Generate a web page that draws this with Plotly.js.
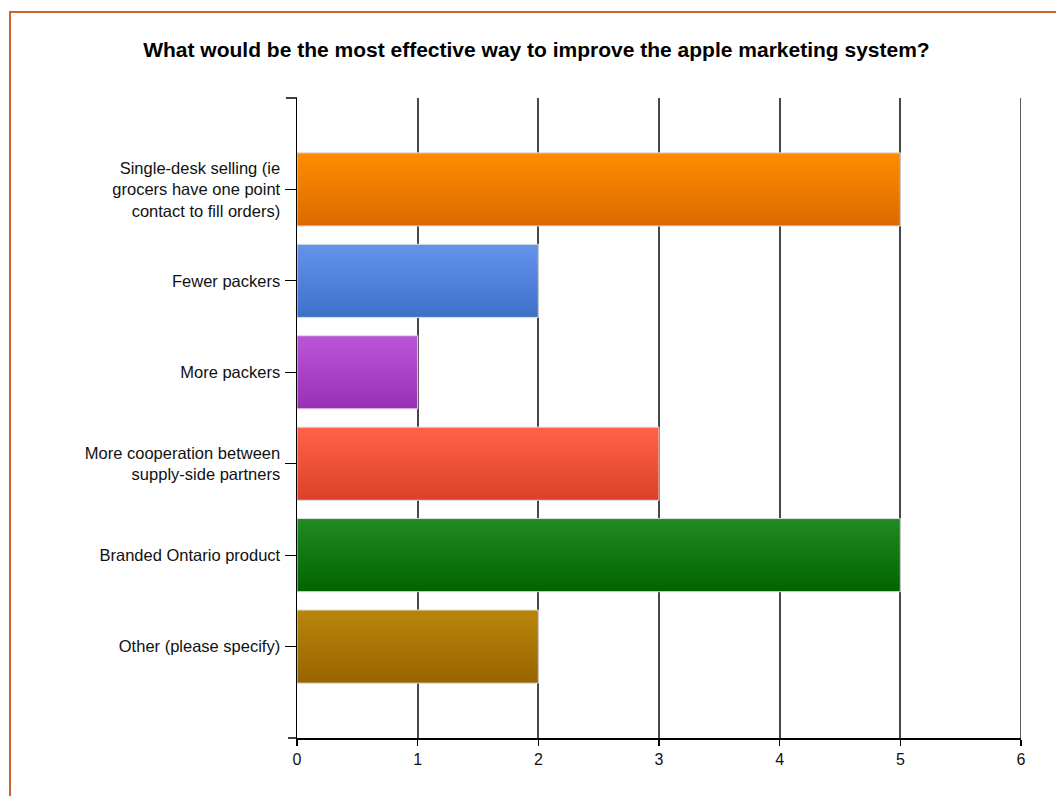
<!DOCTYPE html>
<html>
<head>
<meta charset="utf-8">
<script src="https://cdn.plot.ly/plotly-3.0.1.min.js"></script>
<style>
html,body{margin:0;padding:0;background:#fff;}
#chart{width:1056px;height:796px;}
</style>
</head>
<body>
<div id="chart"></div>
<script>
const categories = [
  "Single-desk selling (ie<br>grocers have one point<br>contact to fill orders)",
  "Fewer packers",
  "More packers",
  "More cooperation between<br>supply-side partners",
  "Branded Ontario product",
  "Other (please specify)"
];
const values = [5, 2, 1, 3, 5, 2];
const topColors = ["#FF8C00", "#6593EC", "#BB55D6", "#FF6347", "#228B22", "#B8860B"];
const bottomColors = ["#DB6A00", "#3F70C9", "#9A30B5", "#DB4126", "#006400", "#996300"];
const midColors = ["#EE7B00", "#5282DB", "#AA43C5", "#ED5237", "#117711", "#A87505"];
const xTicks = [0, 1, 2, 3, 4, 5, 6];
const titleText = "What would be the most effective way to improve the apple marketing system?";

const trace = {
  type: "bar",
  orientation: "h",
  y: categories,
  x: values,
  width: 0.8,
  marker: {color: midColors, line: {color: "#DDDDDD", width: 1}},
  hoverinfo: "x+y"
};

const xMax = xTicks[xTicks.length - 1];

const layout = {
  width: 1056,
  height: 796,
  margin: {l: 297, r: 35, t: 98, b: 58, pad: 0},
  paper_bgcolor: "#ffffff",
  plot_bgcolor: "#ffffff",
  showlegend: false,
  font: {family: "Liberation Sans, Arial, sans-serif", size: 16, color: "#111"},
  title: {
    text: "<b>" + titleText + "</b>",
    font: {family: "Liberation Sans, Arial, sans-serif", size: 21, color: "#000"},
    x: 0.508, xanchor: "center", y: 0.938, yanchor: "middle"
  },
  xaxis: {
    range: [xTicks[0], xMax],
    tickvals: xTicks,
    ticktext: xTicks.map(String),
    showgrid: true,
    gridcolor: "#484848",
    gridwidth: 1.8,
    zeroline: false,
    showline: true,
    linecolor: "#000",
    linewidth: 1.5,
    ticks: "outside",
    ticklen: 6,
    tickwidth: 1.5,
    tickcolor: "#000",
    tickfont: {size: 16, color: "#111"},
    fixedrange: true
  },
  yaxis: {
    type: "category",
    categoryorder: "array",
    categoryarray: categories,
    range: [6, -1],
    showgrid: false,
    zeroline: false,
    showline: true,
    linecolor: "#000",
    linewidth: 1.5,
    ticks: "outside",
    ticklen: 11,
    tickwidth: 1.2,
    tickcolor: "#000",
    ticklabelstandoff: 1,
    tickfont: {size: 16.5, color: "#111"},
    fixedrange: true
  },
  shapes: [
    {type: "rect", xref: "paper", yref: "paper",
     x0: (10 - 297) / 724, x1: (1080 - 297) / 724,
     y0: (738 - 820) / 640, y1: (738 - 12) / 640,
     line: {color: "#C8642E", width: 2}, fillcolor: "rgba(0,0,0,0)", layer: "below"},
    {type: "line", xref: "x", yref: "paper",
     x0: xMax, x1: xMax, y0: 0, y1: 1,
     line: {color: "#484848", width: 1.8}, layer: "below"},
    {type: "line", xref: "paper", yref: "paper",
     x0: -11 / 724, x1: 0, y0: 1, y1: 1,
     line: {color: "#000", width: 1.5}},
    {type: "line", xref: "paper", yref: "paper",
     x0: -9 / 724, x1: 0, y0: 0, y1: 0,
     line: {color: "#000", width: 1.5}}
  ]
};

Plotly.newPlot("chart", [trace], layout, {displayModeBar: false, staticPlot: true}).then(function(gd){
  const svg = gd.querySelector("svg.main-svg");
  const ns = "http://www.w3.org/2000/svg";
  let defs = svg.querySelector("defs");
  if (!defs) { defs = document.createElementNS(ns, "defs"); svg.insertBefore(defs, svg.firstChild); }
  topColors.forEach(function(c, i){
    const g = document.createElementNS(ns, "linearGradient");
    g.setAttribute("id", "barGrad" + i);
    g.setAttribute("x1", "0"); g.setAttribute("y1", "0");
    g.setAttribute("x2", "0"); g.setAttribute("y2", "1");
    const s1 = document.createElementNS(ns, "stop");
    s1.setAttribute("offset", "0"); s1.setAttribute("stop-color", c);
    const s2 = document.createElementNS(ns, "stop");
    s2.setAttribute("offset", "1"); s2.setAttribute("stop-color", bottomColors[i]);
    g.appendChild(s1); g.appendChild(s2);
    defs.appendChild(g);
  });
  const paths = gd.querySelectorAll(".barlayer .point path");
  paths.forEach(function(p, i){
    p.style.fill = "url(#barGrad" + i + ")";
  });
});
</script>
</body>
</html>
